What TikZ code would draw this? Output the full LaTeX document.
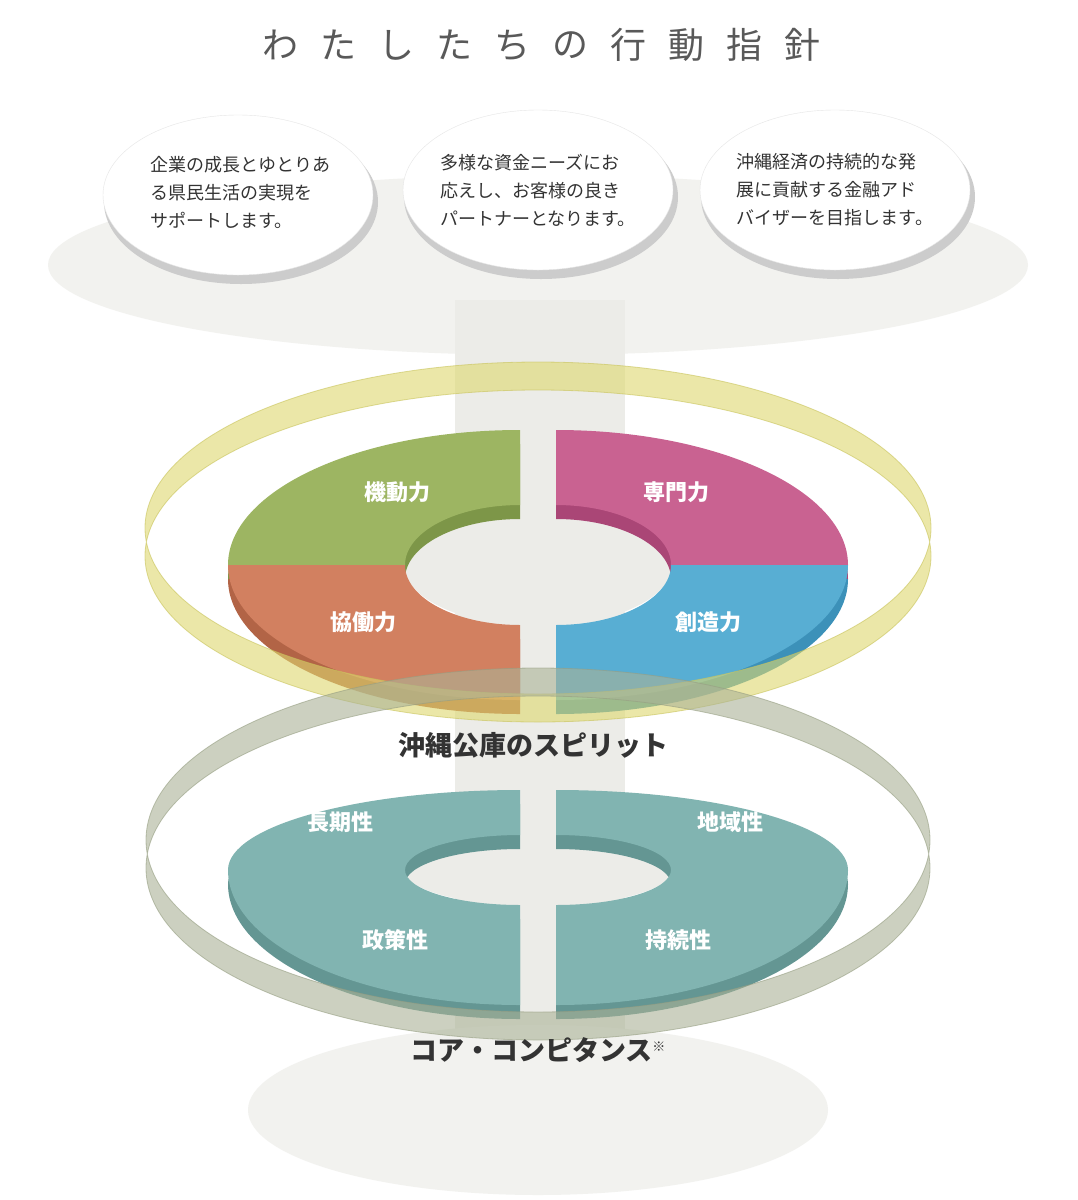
\documentclass[tikz,border=0pt]{standalone}
\usepackage{fontspec}
\setmainfont{Noto Sans CJK JP}
\definecolor{cgreen}{RGB}{157,181,98}
\definecolor{cgreend}{RGB}{125,150,72}
\definecolor{cpink}{RGB}{201,98,145}
\definecolor{cpinkd}{RGB}{170,70,118}
\definecolor{corange}{RGB}{210,128,96}
\definecolor{corangd}{RGB}{178,100,70}
\definecolor{cblue}{RGB}{88,174,211}
\definecolor{cblued}{RGB}{60,145,185}
\definecolor{cteal}{RGB}{129,180,177}
\definecolor{ctealdk}{RGB}{100,150,147}
\definecolor{cyel}{RGB}{222,216,110}
\definecolor{cyeld}{RGB}{200,195,90}
\definecolor{cgr}{RGB}{170,178,150}
\definecolor{cgrd}{RGB}{150,158,130}
\definecolor{cbg}{RGB}{236,236,232}
\begin{document}
\begin{tikzpicture}[x=1pt,y=1pt,
  btext/.style={align=left,font=\fontsize{18}{28}\selectfont,text=black!80},
  wlab/.style={text=white,font=\fontsize{22}{25}\selectfont\bfseries},
  dlab/.style={text=black!80,font=\fontsize{27}{30}\selectfont\bfseries}]
\newcommand{\qseg}[9]{%
  \fill[#1] (#2,-#3) ++ ({#6*cos(#4)},{#7*sin(#4)}) arc[start angle=#4,end angle=#5,x radius=#6,y radius=#7]
   -- ({#2+#8*cos(#5)},{-#3+#9*sin(#5)}) arc[start angle=#5,end angle=#4,x radius=#8,y radius=#9] -- cycle;}
\useasboundingbox (0,0) rectangle (1077,-1200);
\fill[white] (0,0) rectangle (1077,-1200);
% background funnel
\fill[cbg!70] (538,-265) ellipse[x radius=490,y radius=90];
\fill[cbg] (455,-300) rectangle (625,-1090);
\fill[cbg!70] (538,-1110) ellipse[x radius=290,y radius=85];
% title
\foreach \c [count=\i from 0] in {わ,た,し,た,ち,の,行,動,指,針}
  \node[text=black!65,font=\fontsize{36}{40}\selectfont] at ({280+\i*58},-45) {\c};
% bubbles
\foreach \x/\y in {238/195,538/190,835/190}{
  \fill[gray!40] (\x+3,-\y-7) ellipse[x radius=137,y radius=82];
  \fill[white] (\x,-\y) ellipse[x radius=135,y radius=80];
  \draw[gray!20] (\x,-\y) ellipse[x radius=135,y radius=80];}
\node[btext] at (240,-192) {企業の成長とゆとりあ\\る県民生活の実現を\\サポートします。};
\node[btext] at (538,-190) {多様な資金ニーズにお\\応えし、お客様の良き\\パートナーとなります。};
\node[btext] at (835,-190) {沖縄経済の持続的な発\\展に貢献する金融アド\\バイザーを目指します。};
% holes
\fill[cbg] (538,-565) ellipse[x radius=134,y radius=61];
\fill[cbg] (538,-870) ellipse[x radius=134,y radius=36];
% upper donut
\qseg{cgreend}{520}{579}{90}{180}{292}{135}{115}{60}
\qseg{cpinkd}{556}{579}{0}{90}{292}{135}{115}{60}
\qseg{cgreen}{520}{565}{90}{180}{292}{135}{115}{60}
\qseg{cpink}{556}{565}{0}{90}{292}{135}{115}{60}
\qseg{corangd}{520}{579}{180}{270}{292}{135}{115}{60}
\qseg{cblued}{556}{579}{270}{360}{292}{135}{115}{60}
\qseg{corange}{520}{565}{180}{270}{292}{135}{115}{60}
\qseg{cblue}{556}{565}{270}{360}{292}{135}{115}{60}
\node[wlab] (kido) at (397,-492) {機動力};
\node[wlab] (senmon) at (676,-492) {専門力};
\node[wlab] (kyodo) at (363,-622) {協働力};
\node[wlab] (sozo) at (708,-622) {創造力};
% lower donut
\qseg{ctealdk}{520}{884}{90}{180}{292}{80}{115}{35}
\qseg{ctealdk}{556}{884}{0}{90}{292}{80}{115}{35}
\qseg{cteal}{520}{870}{90}{180}{292}{80}{115}{35}
\qseg{cteal}{556}{870}{0}{90}{292}{80}{115}{35}
\qseg{ctealdk}{520}{884}{180}{270}{292}{135}{115}{35}
\qseg{ctealdk}{556}{884}{270}{360}{292}{135}{115}{35}
\qseg{cteal}{520}{870}{180}{270}{292}{135}{115}{35}
\qseg{cteal}{556}{870}{270}{360}{292}{135}{115}{35}
\node[wlab] (choki) at (340,-822) {長期性};
\node[wlab] (chiiki) at (730,-822) {地域性};
\node[wlab] (seisaku) at (395,-940) {政策性};
\node[wlab] (jizoku) at (678,-940) {持続性};
% rings
\fill[even odd rule,fill=cyel,opacity=0.6]
  (538,-528) ellipse[x radius=393,y radius=166] (538,-556) ellipse[x radius=393,y radius=166];
\draw[cyeld,opacity=0.6,line width=0.8pt]
  (538,-528) ellipse[x radius=393,y radius=166] (538,-556) ellipse[x radius=393,y radius=166];
\fill[even odd rule,fill=cgr,opacity=0.6]
  (538,-840) ellipse[x radius=392,y radius=172] (538,-868) ellipse[x radius=392,y radius=172];
\draw[cgrd,opacity=0.6,line width=0.8pt]
  (538,-840) ellipse[x radius=392,y radius=172] (538,-868) ellipse[x radius=392,y radius=172];
\node[dlab] (spirit) at (533,-745) {沖縄公庫のスピリット};
\node[dlab] (core) at (538,-1050) {コア・コンピタンス\textsuperscript{\fontsize{13}{13}\selectfont ※}};
\end{tikzpicture}
\end{document}
